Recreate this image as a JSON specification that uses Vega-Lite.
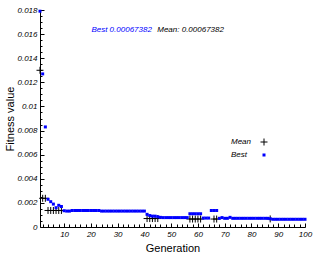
{
  "$schema": "https://vega.github.io/schema/vega-lite/v6.json",
  "width": 265,
  "height": 217,
  "autosize": {"type": "none"},
  "padding": {"left": 40, "top": 10, "right": 17, "bottom": 32},
  "background": "white",
  "resolve": {"axis": {"x": "independent", "y": "independent"}},
  "config": {
    "view": {"stroke": null},
    "axis": {
      "grid": false,
      "domainColor": "black",
      "domainWidth": 1,
      "tickColor": "black",
      "tickWidth": 1,
      "labelColor": "black",
      "labelFont": "Liberation Sans",
      "labelFontStyle": "italic",
      "labelFontSize": 8,
      "labelFlush": false,
      "labelOverlap": false,
      "labelBound": false,
      "titleColor": "black",
      "titleFont": "Liberation Sans",
      "titleFontSize": 11,
      "titleFontWeight": "normal"
    },
    "legend": {
      "orient": "none",
      "legendX": 220,
      "legendY": 128,
      "labelOffset": -37,
      "labelFont": "Liberation Sans",
      "labelFontStyle": "italic",
      "labelFontSize": 8,
      "labelColor": "black",
      "rowPadding": 3,
      "padding": 0,
      "symbolStrokeWidth": 1
    }
  },
  "data": {
    "values": [
      {"g": 1, "s": "Mean", "v": 0.0130},
      {"g": 2, "s": "Mean", "v": 0.00238},
      {"g": 3, "s": "Mean", "v": 0.00238},
      {"g": 4, "s": "Mean", "v": 0.00137},
      {"g": 5, "s": "Mean", "v": 0.00137},
      {"g": 6, "s": "Mean", "v": 0.00137},
      {"g": 7, "s": "Mean", "v": 0.00137},
      {"g": 8, "s": "Mean", "v": 0.00137},
      {"g": 9, "s": "Mean", "v": 0.00137},
      {"g": 41, "s": "Mean", "v": 0.0007},
      {"g": 42, "s": "Mean", "v": 0.0007},
      {"g": 43, "s": "Mean", "v": 0.0007},
      {"g": 44, "s": "Mean", "v": 0.0007},
      {"g": 45, "s": "Mean", "v": 0.0007},
      {"g": 57, "s": "Mean", "v": 0.00066},
      {"g": 58, "s": "Mean", "v": 0.00066},
      {"g": 59, "s": "Mean", "v": 0.00066},
      {"g": 60, "s": "Mean", "v": 0.00066},
      {"g": 61, "s": "Mean", "v": 0.00066},
      {"g": 66, "s": "Mean", "v": 0.00066},
      {"g": 67, "s": "Mean", "v": 0.00066},
      {"g": 87, "s": "Mean", "v": 0.00067},
      {"g": 1, "s": "Best", "v": 0.0179},
      {"g": 2, "s": "Best", "v": 0.0127},
      {"g": 3, "s": "Best", "v": 0.0083},
      {"g": 4, "s": "Best", "v": 0.0023},
      {"g": 5, "s": "Best", "v": 0.0021},
      {"g": 6, "s": "Best", "v": 0.0019},
      {"g": 7, "s": "Best", "v": 0.0016},
      {"g": 8, "s": "Best", "v": 0.0018},
      {"g": 9, "s": "Best", "v": 0.0017},
      {"g": 10, "s": "Best", "v": 0.00135},
      {"g": 11, "s": "Best", "v": 0.00132},
      {"g": 12, "s": "Best", "v": 0.00132},
      {"g": 13, "s": "Best", "v": 0.00137},
      {"g": 14, "s": "Best", "v": 0.00137},
      {"g": 15, "s": "Best", "v": 0.00137},
      {"g": 16, "s": "Best", "v": 0.00137},
      {"g": 17, "s": "Best", "v": 0.00137},
      {"g": 18, "s": "Best", "v": 0.00137},
      {"g": 19, "s": "Best", "v": 0.00137},
      {"g": 20, "s": "Best", "v": 0.00137},
      {"g": 21, "s": "Best", "v": 0.00137},
      {"g": 22, "s": "Best", "v": 0.00137},
      {"g": 23, "s": "Best", "v": 0.00137},
      {"g": 24, "s": "Best", "v": 0.00132},
      {"g": 25, "s": "Best", "v": 0.00132},
      {"g": 26, "s": "Best", "v": 0.00132},
      {"g": 27, "s": "Best", "v": 0.00132},
      {"g": 28, "s": "Best", "v": 0.00132},
      {"g": 29, "s": "Best", "v": 0.00132},
      {"g": 30, "s": "Best", "v": 0.00132},
      {"g": 31, "s": "Best", "v": 0.00132},
      {"g": 32, "s": "Best", "v": 0.00132},
      {"g": 33, "s": "Best", "v": 0.00132},
      {"g": 34, "s": "Best", "v": 0.00132},
      {"g": 35, "s": "Best", "v": 0.00132},
      {"g": 36, "s": "Best", "v": 0.00132},
      {"g": 37, "s": "Best", "v": 0.00132},
      {"g": 38, "s": "Best", "v": 0.00132},
      {"g": 39, "s": "Best", "v": 0.00132},
      {"g": 40, "s": "Best", "v": 0.00132},
      {"g": 41, "s": "Best", "v": 0.00105},
      {"g": 42, "s": "Best", "v": 0.00095},
      {"g": 43, "s": "Best", "v": 0.0009},
      {"g": 44, "s": "Best", "v": 0.0009},
      {"g": 45, "s": "Best", "v": 0.00085},
      {"g": 46, "s": "Best", "v": 0.0008},
      {"g": 47, "s": "Best", "v": 0.00078},
      {"g": 48, "s": "Best", "v": 0.00078},
      {"g": 49, "s": "Best", "v": 0.00078},
      {"g": 50, "s": "Best", "v": 0.00078},
      {"g": 51, "s": "Best", "v": 0.00078},
      {"g": 52, "s": "Best", "v": 0.00078},
      {"g": 53, "s": "Best", "v": 0.00078},
      {"g": 54, "s": "Best", "v": 0.00078},
      {"g": 55, "s": "Best", "v": 0.00078},
      {"g": 56, "s": "Best", "v": 0.00078},
      {"g": 57, "s": "Best", "v": 0.0011},
      {"g": 58, "s": "Best", "v": 0.0011},
      {"g": 59, "s": "Best", "v": 0.0011},
      {"g": 60, "s": "Best", "v": 0.0011},
      {"g": 61, "s": "Best", "v": 0.0011},
      {"g": 62, "s": "Best", "v": 0.00074},
      {"g": 63, "s": "Best", "v": 0.00074},
      {"g": 64, "s": "Best", "v": 0.00074},
      {"g": 65, "s": "Best", "v": 0.00137},
      {"g": 66, "s": "Best", "v": 0.00137},
      {"g": 67, "s": "Best", "v": 0.00137},
      {"g": 68, "s": "Best", "v": 0.00072},
      {"g": 69, "s": "Best", "v": 0.00078},
      {"g": 70, "s": "Best", "v": 0.00072},
      {"g": 71, "s": "Best", "v": 0.00072},
      {"g": 72, "s": "Best", "v": 0.0008},
      {"g": 73, "s": "Best", "v": 0.00072},
      {"g": 74, "s": "Best", "v": 0.00072},
      {"g": 75, "s": "Best", "v": 0.00072},
      {"g": 76, "s": "Best", "v": 0.00072},
      {"g": 77, "s": "Best", "v": 0.00072},
      {"g": 78, "s": "Best", "v": 0.00072},
      {"g": 79, "s": "Best", "v": 0.00072},
      {"g": 80, "s": "Best", "v": 0.00072},
      {"g": 81, "s": "Best", "v": 0.00072},
      {"g": 82, "s": "Best", "v": 0.00072},
      {"g": 83, "s": "Best", "v": 0.00072},
      {"g": 84, "s": "Best", "v": 0.00072},
      {"g": 85, "s": "Best", "v": 0.00072},
      {"g": 86, "s": "Best", "v": 0.00072},
      {"g": 87, "s": "Best", "v": 0.00069},
      {"g": 88, "s": "Best", "v": 0.00064},
      {"g": 89, "s": "Best", "v": 0.00064},
      {"g": 90, "s": "Best", "v": 0.00064},
      {"g": 91, "s": "Best", "v": 0.00064},
      {"g": 92, "s": "Best", "v": 0.00064},
      {"g": 93, "s": "Best", "v": 0.00064},
      {"g": 94, "s": "Best", "v": 0.00064},
      {"g": 95, "s": "Best", "v": 0.00064},
      {"g": 96, "s": "Best", "v": 0.00064},
      {"g": 97, "s": "Best", "v": 0.00064},
      {"g": 98, "s": "Best", "v": 0.00064},
      {"g": 99, "s": "Best", "v": 0.00064},
      {"g": 100, "s": "Best", "v": 0.00064}
    ]
  },
  "layer": [
    {
      "mark": {"type": "point", "opacity": 1, "strokeWidth": 1, "filled": false},
      "encoding": {
        "x": {
          "field": "g", "type": "quantitative",
          "scale": {"domain": [1, 100], "nice": false, "zero": false},
          "axis": {
            "orient": "bottom",
            "title": "Generation",
            "values": [10,20,30,40,50,60,70,80,90,100],
            "labelOverlap": false,
            "tickSize": -4,
            "labelPadding": 7,
            "titleX": 132.5,
            "titleY": 24,
            "titleBaseline": "alphabetic"
          }
        },
        "y": {
          "field": "v", "type": "quantitative",
          "scale": {"domain": [0, 0.018], "nice": false},
          "axis": {
            "orient": "left",
            "title": "Fitness value",
            "values": [0,0.002,0.004,0.006,0.008,0.01,0.012,0.014,0.016,0.018],
            "format": "~g",
            "labelOverlap": false,
            "tickSize": -4,
            "labelPadding": 7,
            "titleX": -27,
            "titleY": 108.5,
            "titleBaseline": "alphabetic",
            "titleAlign": "center"
          }
        },
        "shape": {"field": "s", "type": "nominal", "scale": {"domain": ["Mean", "Best"], "range": ["M-1,0L1,0M0,-1L0,1", "square"]}, "legend": {"title": null}},
        "fill": {"field": "s", "type": "nominal", "scale": {"domain": ["Mean", "Best"], "range": ["transparent", "#0000ff"]}, "legend": {"title": null}},
        "stroke": {"field": "s", "type": "nominal", "scale": {"domain": ["Mean", "Best"], "range": ["#000000", "transparent"]}, "legend": {"title": null}},
        "size": {"field": "s", "type": "nominal", "scale": {"domain": ["Mean", "Best"], "range": [49, 9]}, "legend": {"title": null}}
      }
    },
    {
      "data": {"values": [{"label": "Best 0.00067382"}]},
      "mark": {"type": "text", "align": "right", "baseline": "middle", "color": "#0000ff", "font": "Liberation Sans", "fontStyle": "italic", "fontSize": 8},
      "encoding": {
        "x": {"datum": 42.8, "type": "quantitative", "axis": {
          "orient": "bottom", "title": null, "labels": false, "domain": false,
          "values": [2,4,6,8,12,14,16,18,22,24,26,28,32,34,36,38,42,44,46,48,52,54,56,58,62,64,66,68,72,74,76,78,82,84,86,88,92,94,96,98],
          "tickSize": -3
        }},
        "y": {"datum": 0.0163, "type": "quantitative", "axis": {
          "orient": "left", "title": null, "labels": false, "domain": false,
          "values": [0.0005,0.001,0.0015,0.0025,0.003,0.0035,0.0045,0.005,0.0055,0.0065,0.007,0.0075,0.0085,0.009,0.0095,0.0105,0.011,0.0115,0.0125,0.013,0.0135,0.0145,0.015,0.0155,0.0165,0.017,0.0175],
          "tickSize": -2
        }},
        "text": {"field": "label"}
      }
    },
    {
      "data": {"values": [{"label": "Mean: 0.00067382"}]},
      "mark": {"type": "text", "align": "left", "baseline": "middle", "color": "#000000", "font": "Liberation Sans", "fontStyle": "italic", "fontSize": 8},
      "encoding": {
        "x": {"datum": 44.8, "type": "quantitative", "axis": null},
        "y": {"datum": 0.0163, "type": "quantitative", "axis": null},
        "text": {"field": "label"}
      }
    }
  ]
}
